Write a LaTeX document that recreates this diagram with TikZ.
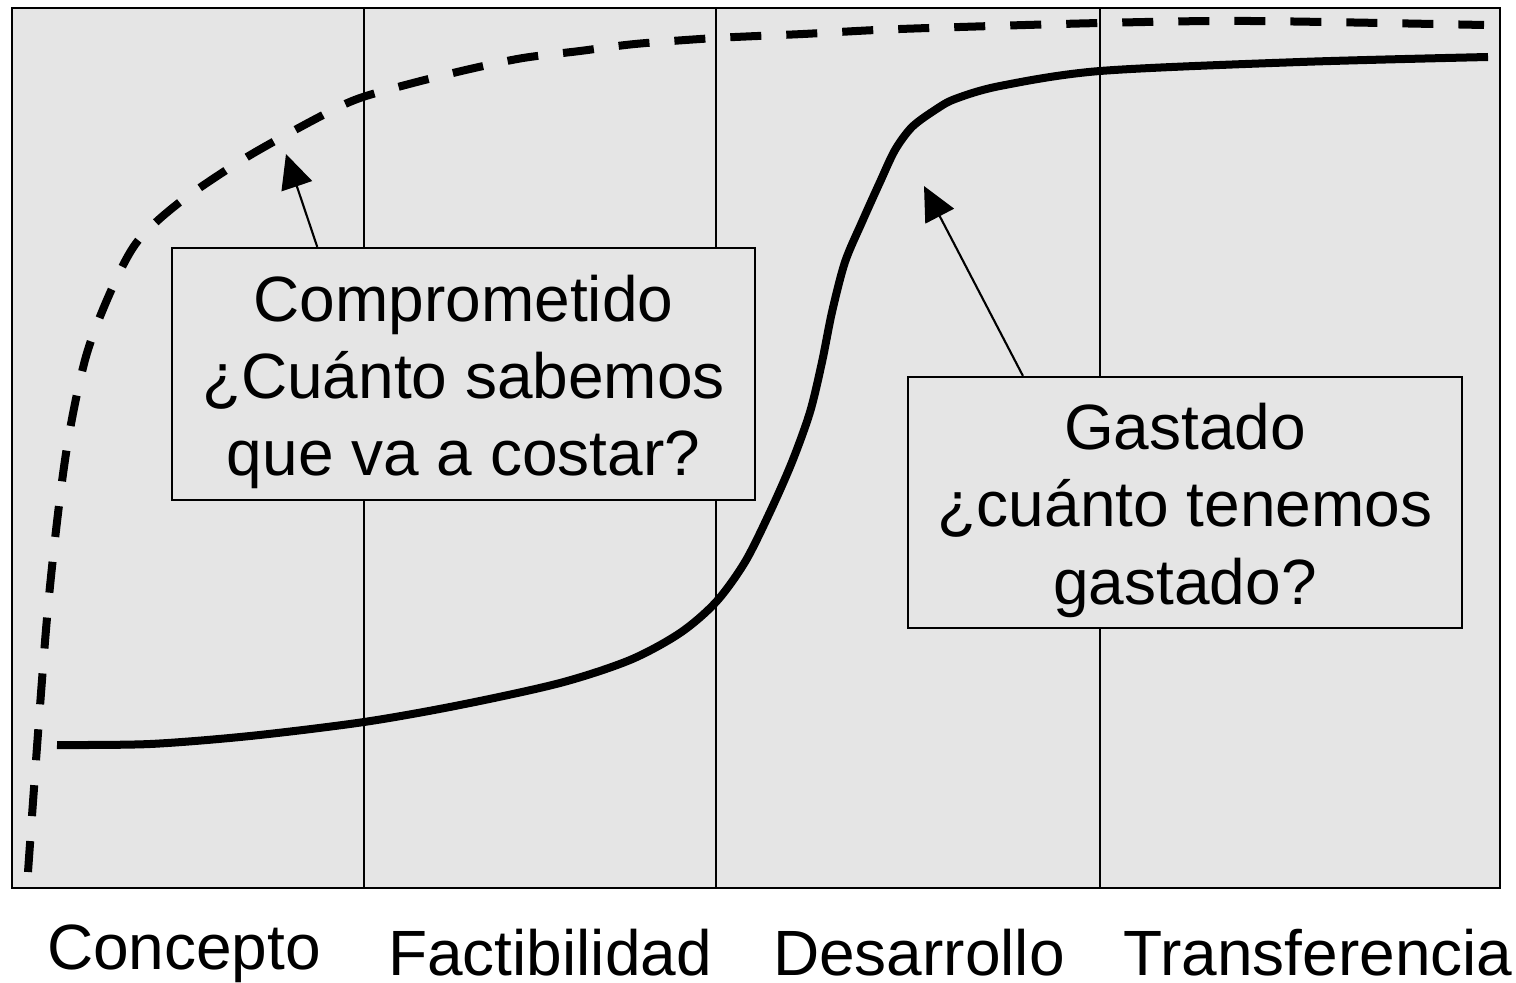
\documentclass[tikz,border=0pt]{standalone}
\usepackage{fontspec}
\setmainfont{Liberation Sans}
\usetikzlibrary{arrows.meta}
\begin{document}
\begin{tikzpicture}[x=0.01cm,y=-0.01cm]
  \tikzset{ txt/.style={font=\fontsize{18.2}{22}\selectfont},
    box/.style={txt,draw,line width=0.6pt,fill=black!10,align=center,inner sep=0pt},
    lbl/.style={txt,anchor=base,inner sep=0pt},
    arr/.style={-{Triangle[length=0.34cm,width=0.32cm]},line width=0.6pt},
  }
  \useasboundingbox (0,0) rectangle (1516,982);

  \fill[black!10] (12,8) rectangle (1500,888);
  \foreach \x in {364,716,1100} \draw[line width=0.6pt] (\x,8) -- (\x,888);
  \draw[line width=0.8pt] (12,8) rectangle (1500,888);

  % comprometido
  \draw[line width=0.08cm,dash pattern=on 0.31cm off 0.25cm] plot[smooth] coordinates {
    (28,872) (47,618) (65,460) (85,360) (110,293) (137,242) (180,202) (247,157)
    (323,115) (360,98) (413,83) (470,69) (523,58) (580,51) (635,44) (716,38)
    (803,34) (900,29) (1100,23) (1250,21) (1484,25)};

  % gastado
  \draw[line width=0.08cm] plot[smooth] coordinates {
    (57,745) (150,744) (250,736) (364,722) (460,705) (560,683) (630,660) (680,633)
    (716,602) (745,562) (770,512) (792,462) (810,412) (822,362) (832,312) (845,262)
    (862,222) (880,182) (895,150) (912,127) (935,110) (955,99) (1000,86) (1100,71)
    (1300,62) (1488,57)};

  \node[box,minimum width=5.83cm,minimum height=2.52cm] (C) at (463.5,374)
    {\rule{0pt}{0.62cm}Comprometido\\¿Cuánto sabemos\\que va a costar?};
  \node[box,minimum width=5.54cm,minimum height=2.51cm] (G) at (1185,502.5)
    {\rule{0pt}{0.62cm}Gastado\\¿cuánto tenemos\\gastado?};

  \coordinate (c) at (286,154);
  \coordinate (g) at (924,186);
  \draw[arr] (C.139.5) -- (c);
  \draw[arr] (G.142.7) -- (g);

  \node[lbl] (k1) at (184,969) {Concepto};
  \node[lbl] (k2) at (550,975) {Factibilidad};
  \node[lbl] (k3) at (919,975) {Desarrollo};
  \node[lbl] (k4) at (1318,975) {Transferencia};
\end{tikzpicture}
\end{document}
